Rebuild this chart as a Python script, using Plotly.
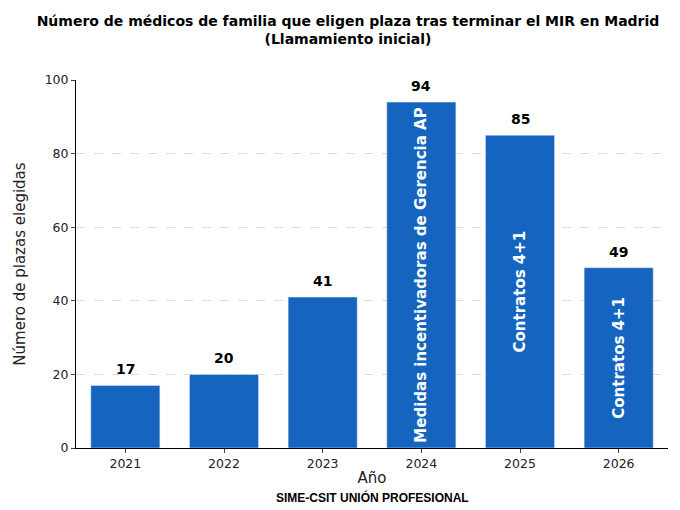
import plotly.graph_objects as go

years = ["2021", "2022", "2023", "2024", "2025", "2026"]
plazas = [17, 20, 41, 94, 85, 49]
notes = ["", "", "", "Medidas incentivadoras de Gerencia AP", "Contratos 4+1", "Contratos 4+1"]
pos = list(range(len(years)))

fig = go.Figure()
fig.add_trace(go.Bar(
    x=pos, y=plazas, marker_color="#1565C0", width=0.7,
    text=[f"<b>{n}</b>" if n else "" for n in notes], textposition="inside", textangle=-90,
    insidetextanchor="middle",
    textfont=dict(color="white", size=15, family="DejaVu Sans"),
))
for p, v in zip(pos, plazas):
    fig.add_annotation(x=p, y=v, text=f"<b>{v}</b>", showarrow=False, yshift=16,
                       font=dict(size=14, color="black"))
fig.add_annotation(x=0.5, y=-0.16, xref="paper", yref="paper", showarrow=False,
                   text="<b>SIME-CSIT UNIÓN PROFESIONAL</b>",
                   font=dict(size=12, family="Liberation Sans", color="black"))

fig.update_layout(
    width=680, height=510, plot_bgcolor="white", paper_bgcolor="white",
    font=dict(family="DejaVu Sans", size=12.5, color="#222"),
    title=dict(text="<b>Número de médicos de familia que eligen plaza tras terminar el MIR en Madrid<br>(Llamamiento inicial)</b>",
               x=0.5, xanchor="center", y=0.965, font=dict(size=14, color="black")),
    margin=dict(l=68, r=20, t=72, b=70),
    showlegend=False,
    xaxis=dict(tickvals=pos, ticktext=years, range=[-0.5, 5.5], title=dict(text="Año", standoff=2),
               showline=True, linecolor="black", ticks="outside", ticklen=4),
    yaxis=dict(title=dict(text="Número de plazas elegidas"), range=[0, 100], dtick=20,
               showgrid=True, gridcolor="#ddd", griddash="dash", showline=True, linecolor="black",
               ticks="outside", ticklen=4, zeroline=False),
)
fig.write_html("out.html")
